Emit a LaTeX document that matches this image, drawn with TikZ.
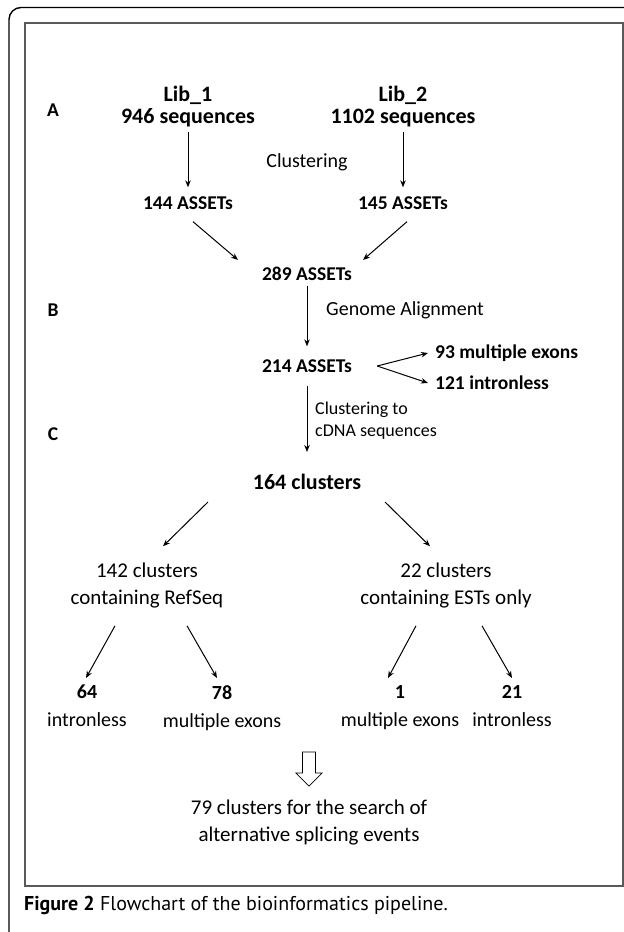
\documentclass[tikz,border=0pt]{standalone}
\usepackage{fontspec}
\setmainfont{Carlito}
\newfontfamily\capfont{PT Sans}
\usetikzlibrary{arrows.meta}

\begin{document}
\begin{tikzpicture}[x=1pt,y=-1pt,
    every node/.style={font=\fontsize{19.5}{24}\selectfont\bfseries, align=center, inner sep=1pt},
    lib/.style={font=\fontsize{22}{22}\selectfont\bfseries},
    lbl/.style={font=\fontsize{20}{24}\selectfont},
    small/.style={font=\fontsize{18}{22}\selectfont},
    head/.style={font=\fontsize{22}{26}\selectfont\bfseries},
    desc/.style={font=\fontsize{21}{27}\selectfont},
    leaf/.style={font=\fontsize{20}{28}\selectfont\bfseries, anchor=north},
    arr/.style={-{Stealth[length=7pt,width=5.5pt]}, line width=1pt}]
  \useasboundingbox (0,0) rectangle (624,932);
  \draw[line width=1.4pt, rounded corners=12pt] (624,7.5) -- (9,7.5) -- (9,945);
  \draw[line width=1.2pt, black!65] (25,23) rectangle (623,886);
  \node (A) at (53,110) {A};
  \node (B) at (53,310) {B};
  \node (C) at (53,434) {C};
  \node[lib] (lib1) at (188,107) {Lib\_1\\946 sequences};
  \node[lib] (lib2) at (403,107) {Lib\_2\\1102 sequences};
  \node[lbl] (clu) at (307,162) {Clustering};
  \node (a144) at (188,203) {144 ASSETs};
  \node (a145) at (403,203) {145 ASSETs};
  \node (a289) at (307,274) {289 ASSETs};
  \node[lbl, anchor=west] (ga) at (325,310) {Genome Alignment};
  \node (a214) at (307,366) {214 ASSETs};
  \node[anchor=west] (ex93) at (434,353) {93 multiple exons};
  \node[anchor=west] (in121) at (434,383) {121 intronless};
  \node[small, anchor=west, align=left] (ctc) at (314,421) {Clustering to\\cDNA sequences};
  \node[head] (c164) at (307,482) {164 clusters};
  \node[desc] (r142) at (147,586) {142 clusters\\containing RefSeq};
  \node[desc] (e22) at (446,586) {22 clusters\\containing ESTs only};
  \node[leaf] (i64) at (87,684) {64\\\mdseries intronless};
  \node[leaf] (m78) at (222,684) {78\\\mdseries multiple exons};
  \node[leaf] (m1) at (400,684) {1\\\mdseries multiple exons};
  \node[leaf] (i21) at (512,684) {21\\\mdseries intronless};
  \coordinate (down) at (309,752);
  \node[desc] (fin) at (309,823) {79 clusters for the search of\\alternative splicing events};
  \node[anchor=west, font=\capfont\fontsize{20}{22}\selectfont] (cap) at (23,905) {\textbf{Figure 2} Flowchart of the bioinformatics pipeline.};
  \draw[line width=0.7pt] ([xshift=-6.5pt]down) -- ([xshift=6.5pt]down) -- ++(0,21) -- ++(6.5,0) -- ([yshift=-34pt]down) -- ++(-13,-13) -- ++(6.5,0) -- cycle;
  \draw[arr] ([yshift=-3pt]lib1.south) -- ([yshift=8pt]a144.north);
  \draw[arr] ([yshift=-3pt]lib2.south) -- ([yshift=8pt]a145.north);
  \draw[arr] ([shift={(5,11)}]a144.south) -- ([shift={(-69,-6)}]a289.north);
  \draw[arr] ([shift={(4,11)}]a145.south) -- ([shift={(56,-6)}]a289.north);
  \draw[arr] ([yshift=-4pt]a289.south) -- ([yshift=12pt]a214.north);
  \draw[arr] ([xshift=24pt]a214.east) -- ([shift={(-6,0)}]ex93.west);
  \draw[arr] ([xshift=24pt]a214.east) -- ([shift={(-6,0)}]in121.west);
  \draw[arr] ([yshift=-12pt]a214.south) -- ([yshift=21pt]c164.north);
  \draw[arr] ([shift={(-99,11)}]c164.south) -- ([shift={(16,-16)}]r142.north);
  \draw[arr] ([shift={(78,11)}]c164.south) -- ([shift={(-16,-16)}]e22.north);
  \draw[arr] ([shift={(-32,16)}]r142.south) -- ([shift={(-1,-6)}]i64.north);
  \draw[arr] ([shift={(40,16)}]r142.south) -- ([shift={(-5,-6)}]m78.north);
  \draw[arr] ([shift={(-30,16)}]e22.south) -- ([shift={(-12,-6)}]m1.north);
  \draw[arr] ([shift={(36,16)}]e22.south) -- ([shift={(0,-6)}]i21.north);
\end{tikzpicture}
\end{document}
